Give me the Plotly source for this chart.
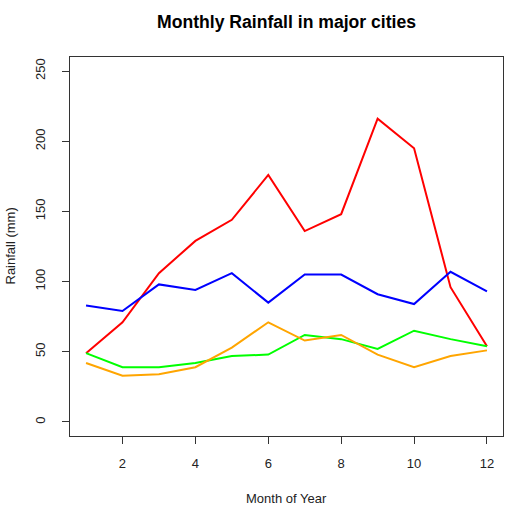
import plotly.graph_objects as go

months = [1, 2, 3, 4, 5, 6, 7, 8, 9, 10, 11, 12]
city_red = [49, 71, 106, 129, 144, 176, 136, 148, 216, 195, 96, 54]
city_blue = [83, 79, 98, 94, 106, 85, 105, 105, 91, 84, 107, 93]
city_green = [49, 39, 39, 42, 47, 48, 62, 59, 52, 65, 59, 54]
city_orange = [42, 33, 34, 39, 53, 71, 58, 62, 48, 39, 47, 51]

x_ticks = [2, 4, 6, 8, 10, 12]
y_ticks = [0, 50, 100, 150, 200, 250]

series = [
    ("City 1", city_red, "#FF0000"),
    ("City 2", city_blue, "#0000FF"),
    ("City 3", city_green, "#00FF00"),
    ("City 4", city_orange, "#FFA500"),
]

fig = go.Figure()
for name, vals, col in series:
    fig.add_trace(go.Scatter(x=months, y=vals, mode="lines", name=name,
                             line=dict(color=col, width=2), showlegend=False))

font_family = "Liberation Sans, Arial, sans-serif"
axis_common = dict(showgrid=False, zeroline=False, showline=True, mirror=True,
                   linecolor="#333333", linewidth=1, ticks="outside", ticklen=7,
                   tickcolor="#333333", tickfont=dict(size=13, color="#222222", family=font_family))

fig.update_layout(
    width=531, height=508,
    margin=dict(l=70, r=28, t=57, b=72),
    paper_bgcolor="white", plot_bgcolor="white",
    font=dict(family=font_family, color="#222222"),
    xaxis=dict(range=[0.56, 12.44], tickvals=x_ticks, ticklabelstandoff=8, **axis_common),
    yaxis=dict(range=[-10, 260], tickvals=y_ticks, tickangle=-90, ticklabelstandoff=12, **axis_common),
    annotations=[
        dict(text="<b>Monthly Rainfall in major cities</b>", xref="paper", yref="paper",
             x=0.5, y=1, yshift=35, xanchor="center", yanchor="middle", showarrow=False,
             font=dict(size=17.6, color="#000000", family=font_family)),
        dict(text="Month of Year", xref="paper", yref="paper", x=0.5, y=0, yshift=-62,
             xanchor="center", yanchor="middle", showarrow=False,
             font=dict(size=13, color="#222222", family=font_family)),
        dict(text="Rainfall (mm)", xref="paper", yref="paper", x=0, y=0.5, xshift=-60,
             textangle=-90, xanchor="center", yanchor="middle", showarrow=False,
             font=dict(size=13, color="#222222", family=font_family)),
    ],
)

# remove the default page margin so the figure sits at the window's top-left corner
fig.write_html("out.html", config={"displayModeBar": False},
               post_script="document.body.style.margin='0';document.body.style.padding='0';")
